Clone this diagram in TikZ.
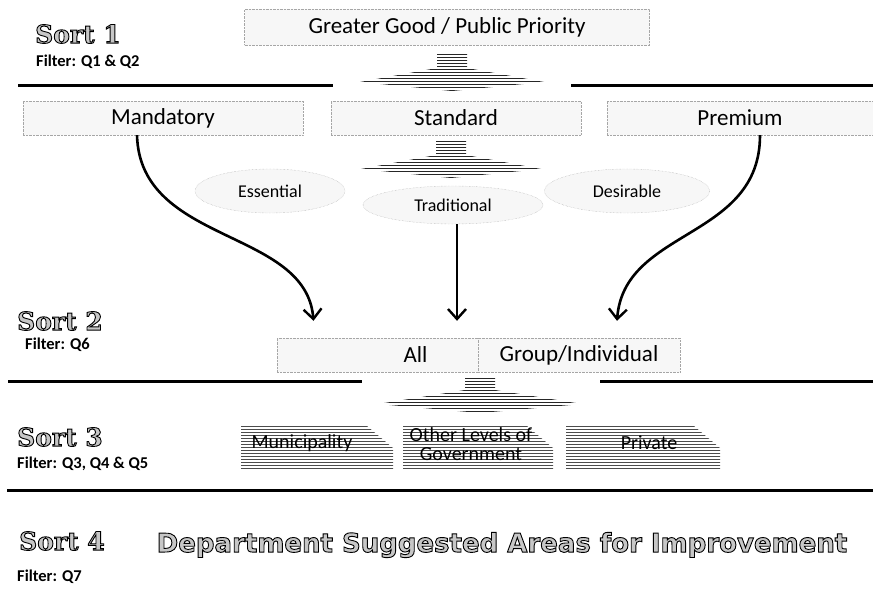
\documentclass[tikz,border=0pt]{standalone}
\usepackage{fontspec}
\setmainfont{Carlito}
\newfontfamily\slabfont{DejaVu Serif}
\newfontfamily\headfont{DejaVu Sans}
\usetikzlibrary{arrows.meta,patterns,shapes.geometric}

% outlined lettering: fill in the current colour, stroke in black
\newcommand\outlined[1]{\special{pdf:literal direct 0 G 2 Tr 0.9 w}#1\special{pdf:literal direct 0 Tr}}

\begin{document}
\begin{tikzpicture}[x=1pt,y=-1pt,
  sortlbl/.style={anchor=west, inner sep=0pt, text=black!22,
    font=\slabfont\bfseries\fontsize{25}{28}\selectfont},
  filterlbl/.style={anchor=west, inner sep=0pt,
    font=\bfseries\fontsize{16.5}{20}\selectfont},
  rule/.style={line width=3pt},
  palebox/.style={rectangle, draw=black!35, densely dotted, fill=black!3,
    inner sep=0pt, font=\fontsize{23}{26}\selectfont},
  paleoval/.style={ellipse, draw=black!35, densely dotted, fill=black!3,
    inner sep=0pt, font=\fontsize{18}{20}\selectfont},
  hatch/.style={pattern=horizontal lines, pattern color=black!85},
  sniphatch/.style={pattern=horizontal lines, pattern color=black!70},
  sniptext/.style={inner sep=0pt, align=center,
    font=\fontsize{20}{19}\selectfont},
  flow/.style={line width=2.6pt,
    -{Straight Barb[length=10pt,width=18pt,line width=2.4pt]}},
  fan/.pic={
    \path[hatch] (-15,0) -- (15,0) -- (15,14) -- (#1,28) -- (0,37)
      -- (-#1,28) -- (-15,14) -- cycle;
  },
  snip/.pic={
    % box of width #1 and height 44, top right corner cut off
    \path[sniphatch] (0,0) -- (#1-26,0) -- (#1,22) -- (#1,44) -- (0,44) -- cycle;
  }]
\useasboundingbox (0,0) rectangle (873,604);

% ---- Sort 1 ----
\node[sortlbl] (s1) at (35,34) {\outlined{Sort 1}};
\node[filterlbl] (f1) at (36,62) {Filter: Q1 \& Q2};
\node[palebox, minimum width=405pt, minimum height=36pt] (good) at (447,27)
  {Greater Good / Public Priority};
\draw[rule] (18,86) -- (333,86);
\draw[rule] (571,86) -- (873,86);
\pic at (452,54) {fan=92};

\node[palebox, minimum width=280pt, minimum height=34pt] (mand) at (163,118) {Mandatory};
\node[palebox, minimum width=250pt, minimum height=34pt] (stan) at (456,118) {Standard};
\node[palebox, minimum width=266pt, minimum height=34pt] (prem) at (740,118) {Premium};
\pic at (451,141) {fan=90};

\node[paleoval, minimum width=150pt, minimum height=44pt] (ess) at (270,191) {Essential};
\node[paleoval, minimum width=165pt, minimum height=44pt] (des) at (627,191) {Desirable};
\node[paleoval, minimum width=180pt, minimum height=38pt] (trad) at (453,205) {Traditional};

% ---- Sort 2 ----
\node[sortlbl] (s2) at (17,321) {\outlined{Sort 2}};
\node[filterlbl] (f2) at (25,345) {Filter: Q6};
\node[palebox, minimum width=201pt, minimum height=34pt, text width=100pt,
  align=right] (allbox) at (377.5,355) {All};
\node[palebox, minimum width=202pt, minimum height=34pt] (grpbox) at (579,355)
  {Group/Individual};

\draw[flow] ([xshift=-26pt]mand.south) .. controls (140,245) and (306,228)
  .. ([xshift=-64pt,yshift=17pt]allbox.north);
\draw[flow] ([xshift=4pt]trad.south) -- ([xshift=79.5pt,yshift=17pt]allbox.north);
\draw[flow] ([xshift=20pt]prem.south) .. controls (760,240) and (624,228)
  .. ([xshift=38pt,yshift=17pt]grpbox.north);

\draw[rule] (8,381) -- (362,381);
\draw[rule] (600,381) -- (873,381);
\pic at (480,376) {fan=102};

% ---- Sort 3 ----
\node[sortlbl] (s3) at (17,437) {\outlined{Sort 3}};
\node[filterlbl] (f3) at (17,464) {Filter: Q3, Q4 \& Q5};
\pic at (241,426) {snip=152};
\pic at (403,426) {snip=150};
\pic at (566,426) {snip=154};
\node[sniptext] (muni) at (302,443) {Municipality};
\node[sniptext] (gov) at (471,444) {Other Levels of\\Government};
\node[sniptext] (priv) at (649,443) {Private};

\draw[rule] (7,490) -- (873,490);

% ---- Sort 4 ----
\node[sortlbl] (s4) at (19,541) {\outlined{Sort 4}};
\node[filterlbl] (f4) at (17,577) {Filter: Q7};
\node[inner sep=0pt, text=black!22, font=\headfont\bfseries\fontsize{26}{30}\selectfont]
  (dept) at (502,545) {\outlined{Department Suggested Areas for Improvement}};
\end{tikzpicture}
\end{document}
